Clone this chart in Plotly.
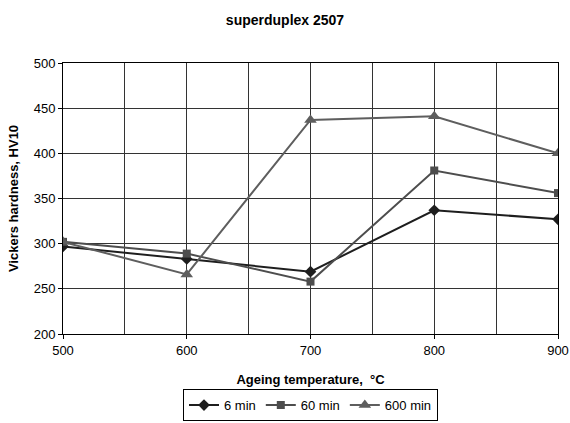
import plotly.graph_objects as go

temps = [500, 600, 700, 800, 900]
hv_6 = [297, 283, 269, 337, 327]
hv_60 = [302, 289, 258, 381, 356]
hv_600 = [302, 266, 437, 441, 400]

series = [
    ("6 min", hv_6, "#1e1e1e", "diamond", 9),
    ("60 min", hv_60, "#4d4d4d", "square", 8),
    ("600 min", hv_600, "#5e5e5e", "triangle-up", 11),
]

fig = go.Figure()
for name, vals, col, sym, sz in series:
    fig.add_trace(go.Scatter(
        x=temps, y=vals, name=name, mode="lines+markers",
        line=dict(color=col, width=2),
        marker=dict(symbol=sym, size=sz, color=col),
    ))

font = "Liberation Sans, Arial, sans-serif"
fig.update_layout(
    width=570, height=423,
    margin=dict(l=63, r=12, t=63, b=89),
    paper_bgcolor="white", plot_bgcolor="white",
    font=dict(family=font, size=13, color="black"),
    title=dict(text="<b>superduplex 2507</b>", x=0.5, xanchor="center",
               y=0.953, yanchor="middle", font=dict(size=14)),
    showlegend=True,
    legend=dict(orientation="h", x=0.5, xanchor="center",
                yref="container", y=0.08, yanchor="top",
                bordercolor="black", borderwidth=1, font=dict(size=13),
                itemwidth=30, tracegroupgap=0),
)
fig.update_xaxes(
    range=[500, 900], dtick=100, tick0=500, automargin=False,
    showgrid=True, gridcolor="#333", gridwidth=1,
    minor=dict(dtick=50, showgrid=True, gridcolor="#333", gridwidth=1),
    ticks="outside", ticklen=4, tickcolor="black",
    showline=True, linecolor="black", linewidth=1, mirror=True,
    zeroline=False,
    title=dict(text="<b>Ageing temperature,  °C</b>", font=dict(size=13), standoff=18),
)
fig.update_yaxes(
    range=[200, 500], dtick=50, automargin=False,
    showgrid=True, gridcolor="#333", gridwidth=1,
    ticks="outside", ticklen=4, tickcolor="black",
    showline=True, linecolor="black", linewidth=1, mirror=True,
    zeroline=False,
    title=dict(text="<b>Vickers hardness, HV10</b>", font=dict(size=13), standoff=12),
)
fig.write_html("out.html", config={"displayModeBar": False},
               post_script="document.body.style.margin='0';")
